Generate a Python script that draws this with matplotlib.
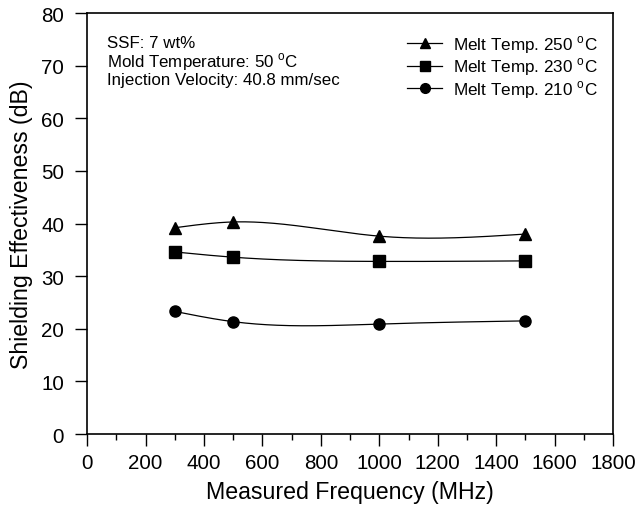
import numpy as np
import matplotlib
matplotlib.use("Agg")
import matplotlib.pyplot as plt
from matplotlib.ticker import MultipleLocator

plt.rcParams['font.family'] = ['Liberation Sans', 'DejaVu Sans']

freq = [300, 500, 1000, 1500]
se_250 = [39.2, 40.3, 37.6, 38.0]
se_230 = [34.6, 33.6, 32.8, 32.9]
se_210 = [23.3, 21.35, 20.9, 21.5]
labels = ["Melt Temp. 250 $^{\\mathregular{o}}$C", "Melt Temp. 230 $^{\\mathregular{o}}$C", "Melt Temp. 210 $^{\\mathregular{o}}$C"]
markers = ['^', 's', 'o']
notes = ["SSF: 7 wt%", "Mold Temperature: 50 $^{\\mathregular{o}}$C", "Injection Velocity: 40.8 mm/sec"]


def natural_spline(x, y, n=200):
    x = np.asarray(x, float); y = np.asarray(y, float)
    k = len(x); h = np.diff(x)
    A = np.zeros((k, k)); b = np.zeros(k)
    A[0, 0] = A[-1, -1] = 1
    for i in range(1, k - 1):
        A[i, i - 1] = h[i - 1]; A[i, i] = 2 * (h[i - 1] + h[i]); A[i, i + 1] = h[i]
        b[i] = 6 * ((y[i + 1] - y[i]) / h[i] - (y[i] - y[i - 1]) / h[i - 1])
    M = np.linalg.solve(A, b)
    xs = np.linspace(x[0], x[-1], n)
    idx = np.clip(np.searchsorted(x, xs) - 1, 0, k - 2)
    x0 = x[idx]; x1 = x[idx + 1]; hh = x1 - x0
    ys = (M[idx] * (x1 - xs) ** 3 / (6 * hh) + M[idx + 1] * (xs - x0) ** 3 / (6 * hh)
          + (y[idx] / hh - M[idx] * hh / 6) * (x1 - xs) + (y[idx + 1] / hh - M[idx + 1] * hh / 6) * (xs - x0))
    return xs, ys


fig = plt.figure(figsize=(6.36, 5.10), dpi=100)
ax = fig.add_axes([0.137, 0.147, 0.827, 0.8255])

handles = []
for ys, m, lab in zip([se_250, se_230, se_210], markers, labels):
    sx, sy = natural_spline(freq, ys)
    ax.plot(sx, sy, color='black', lw=0.9)
    ax.plot(freq, ys, linestyle='none', marker=m, color='black', markersize=8 if m != '^' else 8.5)
    h, = ax.plot([], [], color='black', lw=0.9, marker=m, markersize=7, label=lab)
    handles.append(h)

ax.set_xlim(0, 1800)
ax.set_ylim(0, 80)
ax.xaxis.set_major_locator(MultipleLocator(200))
ax.xaxis.set_minor_locator(MultipleLocator(100))
ax.yaxis.set_major_locator(MultipleLocator(10))
ax.tick_params(axis='both', which='major', direction='out', length=8.5, width=1.0, labelsize=14.8)
ax.tick_params(axis='x', which='major', pad=5.5)
ax.tick_params(axis='y', which='major', pad=8)
ax.tick_params(axis='x', which='minor', direction='out', length=4.5, width=1.0)
ax.tick_params(axis='y', which='minor', left=False)
for s in ax.spines.values():
    s.set_linewidth(1.2)

ax.set_xlabel("Measured Frequency (MHz)", fontsize=16.7, labelpad=5.5)
ax.set_ylabel("Shielding Effectiveness (dB)", fontsize=16.7, labelpad=6)

for i, t in enumerate(notes):
    ax.text(0.038, 0.93 - i * 0.044, t, transform=ax.transAxes, fontsize=12.2, va='center', ha='left')

ax.legend(handles=handles, loc='upper right', bbox_to_anchor=(0.993, 0.98), frameon=False,
          fontsize=12.3, handlelength=2.1, handletextpad=0.6, labelspacing=0.03, borderaxespad=0.3)

fig.savefig("out.png", dpi=100)
